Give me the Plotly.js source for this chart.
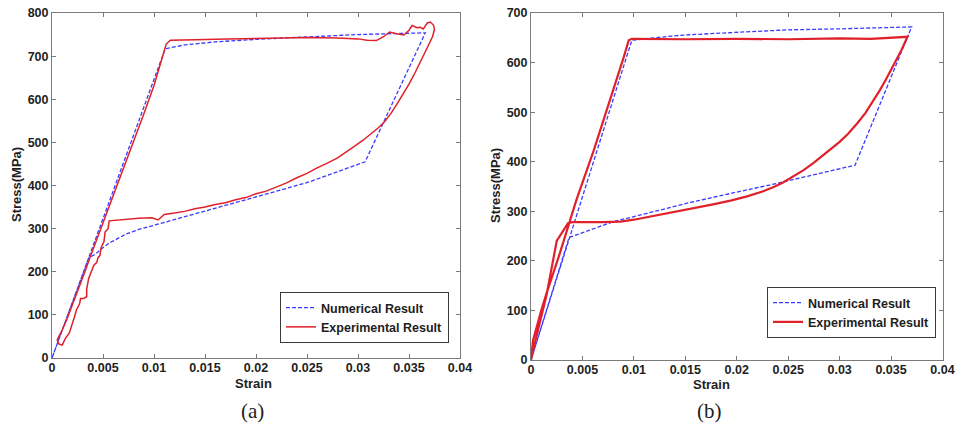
<!DOCTYPE html>
<html>
<head>
<meta charset="utf-8">
<script src="https://cdn.plot.ly/plotly-3.0.1.min.js"></script>
<style>html,body{margin:0;padding:0;background:#fff;}#chart{width:957px;height:428px;}</style>
</head>
<body>
<div id="chart"></div>
<script>
// ---------- Data: panel (a) ----------
const numA_strain = [0, 0.0111, 0.0130, 0.0160, 0.0200, 0.0250, 0.0300, 0.0366,
  0.0307, 0.0280, 0.0253, 0.0225, 0.0201, 0.0175, 0.0145, 0.0120, 0.0100, 0.0085, 0.0073, 0.0062, 0.0055, 0.0049, 0.0042, 0.0036, 0];
const numA_stress = [0, 717, 726, 733, 739, 745, 750, 754,
  455, 432, 409, 390, 374, 357, 338, 320, 308, 298, 288, 275, 265, 254, 240, 232, 0];

const expA_strain = [0.0005, 0.0010, 0.0015, 0.0020, 0.0024, 0.0028, 0.0032, 0.0036, 0.0040, 0.0045, 0.0050, 0.0055, 0.0060, 0.0070, 0.0080, 0.0090, 0.0100, 0.0108, 0.0112, 0.0116, 0.0125,
  0.0140, 0.0160, 0.0180, 0.0200, 0.0220, 0.0250, 0.0280, 0.0300, 0.0309, 0.0318, 0.0325, 0.0331, 0.0338, 0.0345, 0.0350, 0.0353, 0.0358, 0.0361, 0.0364, 0.0368, 0.0371, 0.0374, 0.0375,
  0.0373, 0.0368, 0.0362, 0.0356, 0.0350, 0.0344, 0.0338, 0.0332, 0.0326, 0.0320, 0.0313, 0.0305, 0.0296, 0.0288, 0.0280, 0.0270, 0.0260, 0.0250, 0.0240, 0.0230, 0.0220, 0.0210, 0.0200, 0.0190, 0.0180, 0.0170, 0.0160, 0.0150, 0.0140, 0.0130, 0.0120, 0.0110, 0.0104, 0.0098, 0.0085, 0.0072, 0.0059,
  0.0056, 0.0055, 0.0052, 0.0051, 0.0048, 0.0047, 0.0045, 0.0044, 0.0041, 0.0039, 0.0036, 0.0034, 0.0034, 0.0031, 0.0028, 0.0027, 0.0024, 0.0022, 0.0019, 0.0017, 0.0013, 0.0010, 0.0007, 0.0005];
const expA_stress = [42, 65, 92, 122, 148, 172, 198, 225, 250, 282, 312, 345, 375, 440, 502, 566, 632, 700, 728, 737, 738,
  738, 739, 740, 741, 742, 743, 742, 740, 737, 736, 745, 756, 752, 749, 760, 771, 766, 767, 763, 777, 779, 772, 762,
  745, 720, 690, 662, 635, 610, 588, 566, 548, 534, 520, 505, 490, 476, 464, 452, 441, 428, 418, 406, 397, 387, 381, 372, 367, 360, 356, 350, 346, 340, 336, 333, 320, 325, 324, 322, 320,
  318, 300, 292, 270, 255, 238, 232, 222, 215, 203, 185, 160, 142, 138, 138, 125, 112, 95, 75, 58, 45, 30, 32, 42];

// ---------- Data: panel (b) ----------
const numB_strain = [0, 0.0098, 0.0120, 0.0145, 0.0180, 0.0210, 0.0250, 0.0300, 0.0340, 0.0370,
  0.0315, 0.0275, 0.0232, 0.0194, 0.0151, 0.0113, 0.0080, 0.0057, 0.0046, 0.0037, 0];
const numB_stress = [0, 645, 650, 655, 659, 662, 666, 668, 670, 672,
  393, 373, 353, 336, 316, 296, 279, 262, 254, 247, 0];

const expB_strain = [0, 0.0002, 0.0010, 0.0015, 0.0028, 0.0044, 0.0061, 0.0077, 0.0090, 0.0095, 0.0098,
  0.0150, 0.0200, 0.0250, 0.0300, 0.0330, 0.0366,
  0.0360, 0.0352, 0.0345, 0.0339, 0.0332, 0.0325, 0.0317, 0.0308, 0.0300, 0.0292, 0.0284, 0.0275, 0.0265, 0.0255, 0.0245, 0.0236, 0.0225, 0.0210, 0.0195, 0.0177, 0.0160, 0.0145, 0.0130, 0.0113, 0.0100, 0.0087,
  0.0070, 0.0040, 0.0036, 0.0025, 0.0015, 0.0005, 0];
const expB_stress = [0, 40, 100, 134, 215, 322, 423, 524, 610, 645, 648,
  647, 648, 647, 649, 648, 652,
  625, 592, 566, 544, 520, 498, 477, 456, 440, 426, 413, 398, 383, 370, 358, 349, 340, 330, 322, 314, 307, 301, 295, 288, 283, 279,
  278, 278, 276, 240, 130, 45, 0];

// ---------- Tick labels ----------
const strainTicks = [0, 0.005, 0.01, 0.015, 0.02, 0.025, 0.03, 0.035, 0.04];
const strainTickText = ['0', '0.005', '0.01', '0.015', '0.02', '0.025', '0.03', '0.035', '0.04'];
const stressTicksA = [0, 100, 200, 300, 400, 500, 600, 700, 800];
const stressTicksB = [0, 100, 200, 300, 400, 500, 600, 700];

const seriesNames = ['Numerical Result', 'Experimental Result'];
const xTitle = 'Strain';
const yTitle = 'Stress(MPa)';
const panelLabels = ['(a)', '(b)'];

// ---------- Layout helpers ----------
const W = 957, H = 428;
const px = v => v / W;
const py = v => 1 - v / H;

const blue = '#3a3aff';
const red = '#e0202a';
const axisGray = '#7a7a7a';
const txt = '#1e1e1e';
const sans = 'Liberation Sans, Arial, sans-serif';

const traces = [
  {x: numA_strain, y: numA_stress, type: 'scatter', mode: 'lines', name: seriesNames[0],
   line: {color: blue, width: 1.3, dash: '4px,2px'}, xaxis: 'x', yaxis: 'y', legend: 'legend'},
  {x: expA_strain, y: expA_stress, type: 'scatter', mode: 'lines', name: seriesNames[1],
   line: {color: red, width: 1.5}, xaxis: 'x', yaxis: 'y', legend: 'legend'},
  {x: numB_strain, y: numB_stress, type: 'scatter', mode: 'lines', name: seriesNames[0],
   line: {color: blue, width: 1.3, dash: '4px,2px'}, xaxis: 'x2', yaxis: 'y2', legend: 'legend2'},
  {x: expB_strain, y: expB_stress, type: 'scatter', mode: 'lines', name: seriesNames[1],
   line: {color: red, width: 2.2}, xaxis: 'x2', yaxis: 'y2', legend: 'legend2'}
];

const tickFont = {family: sans, size: 12.5, color: txt, weight: 700};
function xAxis(domain, anchor) {
  return {domain: domain, anchor: anchor, range: [0, 0.04], tickvals: strainTicks, ticktext: strainTickText,
    showline: true, linecolor: axisGray, linewidth: 1, mirror: 'ticks', ticks: 'inside', ticklen: 4,
    tickcolor: axisGray, showgrid: false, zeroline: false, tickfont: tickFont, fixedrange: true,
    ticklabelstandoff: -2};
}
function yAxis(domain, anchor, maxV, vals) {
  return {domain: domain, anchor: anchor, range: [0, maxV], tickvals: vals, ticktext: vals.map(String),
    showline: true, linecolor: axisGray, linewidth: 1, mirror: 'ticks', ticks: 'inside', ticklen: 4,
    tickcolor: axisGray, showgrid: false, zeroline: false, tickfont: tickFont, fixedrange: true};
}

const legendStyle = (x, y) => ({x: x, y: y, xanchor: 'right', yanchor: 'top', xref: 'paper', yref: 'paper',
  bgcolor: '#ffffff', bordercolor: '#3a3a3a', borderwidth: 1,
  font: {family: sans, size: 12.5, color: txt, weight: 700}, itemwidth: 30, tracegroupgap: 0});

const titleFont = {family: sans, size: 13, color: txt, weight: 700};
const labelFont = {family: 'Liberation Serif, Times New Roman, serif', size: 21, color: txt};

const ann = (x, y, text, font, angle) => ({xref: 'paper', yref: 'paper', x: px(x), y: py(y), text: text,
  showarrow: false, font: font, xanchor: 'center', yanchor: 'middle', textangle: angle || 0});

const layout = {
  width: W, height: H,
  margin: {l: 0, r: 0, t: 0, b: 0},
  paper_bgcolor: '#ffffff', plot_bgcolor: '#ffffff',
  showlegend: true,
  xaxis: xAxis([px(52), px(460)], 'y'),
  yaxis: yAxis([py(358), py(13)], 'x', 800, stressTicksA),
  xaxis2: xAxis([px(531), px(942.5)], 'y2'),
  yaxis2: yAxis([py(360), py(13)], 'x2', 700, stressTicksB),
  legend: legendStyle(px(449), py(292)),
  legend2: legendStyle(px(936), py(287)),
  annotations: [
    ann(254, 383, xTitle, titleFont),
    ann(711, 384, xTitle, titleFont),
    ann(17, 185, yTitle, titleFont, -90),
    ann(495, 186, yTitle, titleFont, -90),
    ann(252, 411, panelLabels[0], labelFont),
    ann(709, 411, panelLabels[1], labelFont)
  ]
};

Plotly.newPlot('chart', traces, layout, {displayModeBar: false, staticPlot: true});
</script>
</body>
</html>
